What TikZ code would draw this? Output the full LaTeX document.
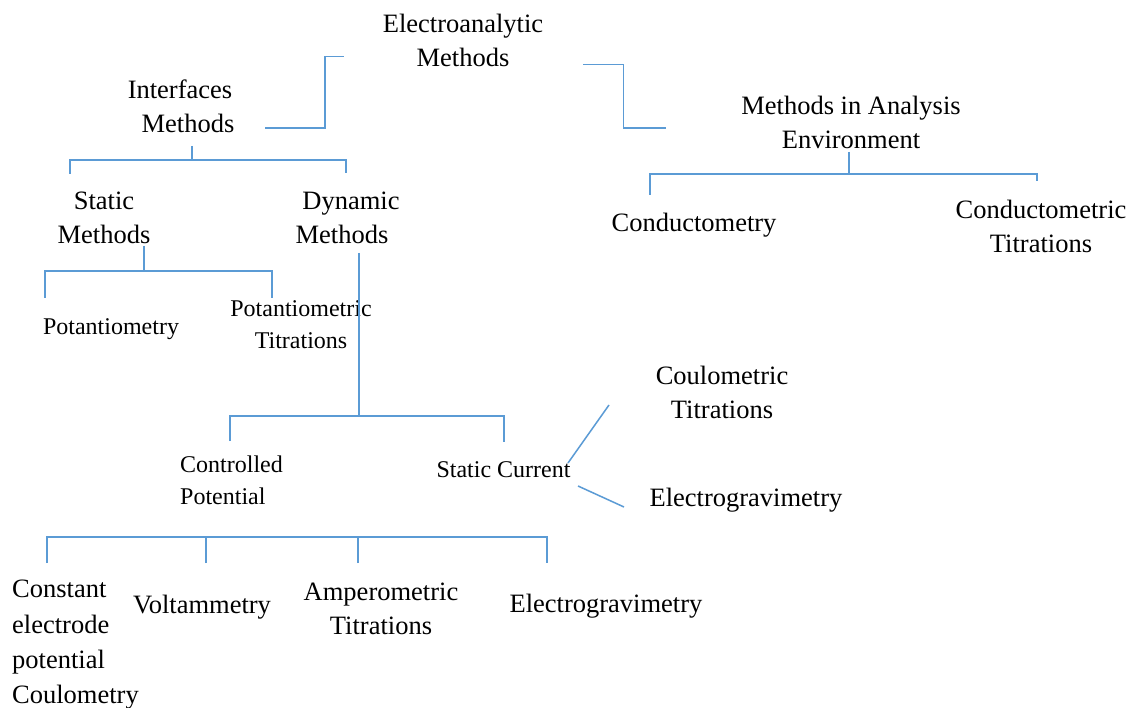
\documentclass[tikz,border=0pt]{standalone}
\usepackage{fontspec}
\setmainfont{Liberation Serif}
\definecolor{lineblue}{RGB}{91,155,213}
\tikzset{
  big/.style={font=\fontsize{26.5}{34}\selectfont, align=center, inner sep=0pt},
  bigleft/.style={font=\fontsize{26.5}{35.3}\selectfont, align=left, inner sep=0pt, anchor=west},
  small/.style={font=\fontsize{24}{32}\selectfont, align=center, inner sep=0pt},
  smallleft/.style={font=\fontsize{24}{32}\selectfont, align=left, inner sep=0pt, anchor=west},
  conn/.style={draw=lineblue, line width=1.5pt}
}
\begin{document}
\begin{tikzpicture}[x=1pt,y=-1pt]
\useasboundingbox[fill=white] (0,0) rectangle (1130,708);
% text nodes
\node[big] (root) at (463,40.5) {Electroanalytic\\Methods};
\node[big] (iface) at (188,106.5) {Interfaces\hspace*{16pt}\\Methods};
\node[big] (env) at (851,122) {Methods in Analysis\\Environment};
\node[big] (static) at (104,217.5) {Static\\Methods};
\node[big] (dynamic) at (342,218) {\hspace*{18pt}Dynamic\\Methods};
\node[big] (cond) at (694,225) {Conductometry};
\node[big] (condtit) at (1041,226.5) {Conductometric\\Titrations};
\node[small] (pot) at (111,329.5) {Potantiometry};
\node[small] (pottit) at (301,325) {Potantiometric\\Titrations};
\node[big] (coultit) at (722,392) {Coulometric\\Titrations};
\node[smallleft] (ctrl) at (180,480.5) {Controlled\\Potential};
\node[small] (statcur) at (503.5,470) {Static Current};
\node[big] (egrav1) at (746,500) {Electrogravimetry};
\node[bigleft] (cecp) at (12,645) {Constant\\electrode\\potential\\Coulometry};
\node[big] (volt) at (202,607) {Voltammetry};
\node[big] (amp) at (381,609) {Amperometric\\Titrations};
\node[big] (egrav2) at (606,606) {Electrogravimetry};
% connector points
\coordinate (iA) at (265,128);
\coordinate (iB) at (325,128);
\coordinate (iC) at (344,56.5);
\coordinate (eA) at (583,64.5);
\coordinate (eB) at (623.5,64.5);
\coordinate (eC) at (666,128);
\coordinate (sTop) at (192,146);
\coordinate (sMid) at (192,160);
\coordinate (sL) at (70,174);
\coordinate (sR) at (346,173);
\coordinate (stTop) at (144,246);
\coordinate (stMid) at (144,271);
\coordinate (stL) at (45,298);
\coordinate (stR) at (272,298);
\coordinate (dTop) at (359,253);
\coordinate (dMid) at (359,416);
\coordinate (dL) at (230,441);
\coordinate (dR) at (504,442);
\coordinate (mTop) at (849,152);
\coordinate (mMid) at (849,174);
\coordinate (mL) at (650,195);
\coordinate (mR) at (1037,181);
\coordinate (cU1) at (568,463);
\coordinate (cU2) at (609,405);
\coordinate (cD1) at (578,486);
\coordinate (cD2) at (624,507);
\coordinate (bL) at (47,563);
\coordinate (b2) at (206,563);
\coordinate (b3) at (358,563);
\coordinate (bR) at (547,563);
\coordinate (bY) at (0,537);
% connectors
\draw[conn] (iA) -- (iB) |- (iC);
\draw[conn] (eA) -- (eB) |- (eC);
\draw[conn] (sTop) -- (sMid);
\draw[conn] (sL) |- (sMid) -| (sR);
\draw[conn] (stTop) -- (stMid);
\draw[conn] (stL) |- (stMid) -| (stR);
\draw[conn] (dTop) -- (dMid);
\draw[conn] (dL) |- (dMid) -| (dR);
\draw[conn] (mTop) -- (mMid);
\draw[conn] (mL) |- (mMid) -| (mR);
\draw[conn] (cU1) -- (cU2);
\draw[conn] (cD1) -- (cD2);
\draw[conn] (bL) -- (bL |- bY) -- (bR |- bY) -- (bR);
\draw[conn] (b2) -- (b2 |- bY);
\draw[conn] (b3) -- (b3 |- bY);
\end{tikzpicture}
\end{document}
